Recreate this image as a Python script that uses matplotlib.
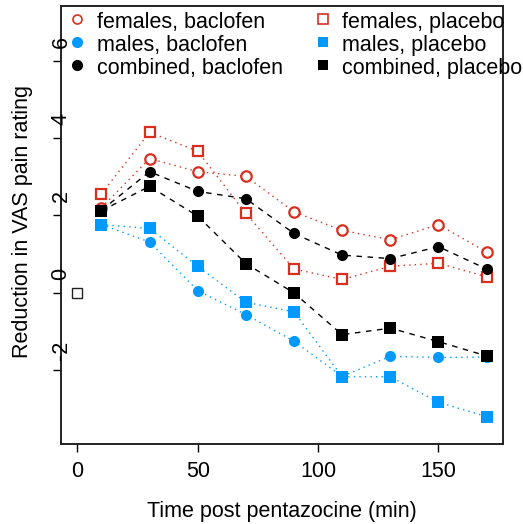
import matplotlib
matplotlib.use("Agg")
import matplotlib.pyplot as plt
from matplotlib.lines import Line2D
from matplotlib.transforms import ScaledTranslation

plt.rcParams['font.family'] = ['Liberation Sans', 'DejaVu Sans']

# ---- data ----
time = [10, 30, 50, 70, 90, 110, 130, 150, 170]
females_baclofen = [2.20, 3.47, 3.13, 3.01, 2.09, 1.61, 1.37, 1.76, 1.05]
females_placebo = [2.56, 4.15, 3.66, 2.05, 0.61, 0.34, 0.68, 0.76, 0.41]
males_baclofen = [1.76, 1.31, 0.05, -0.57, -1.26, -2.17, -1.65, -1.68, -1.67]
males_placebo = [1.76, 1.66, 0.68, -0.25, -0.50, -2.18, -2.18, -2.84, -3.21]
combined_baclofen = [2.13, 3.13, 2.62, 2.43, 1.53, 0.97, 0.88, 1.19, 0.61]
combined_placebo = [2.12, 2.75, 1.98, 0.75, -0.01, -1.09, -0.92, -1.27, -1.64]
baseline_time = [0]
baseline_value = [0]
x_ticks = [0, 50, 100, 150]
y_ticks = [-2, 0, 2, 4, 6]
legend_labels = ["females, baclofen", "males, baclofen", "combined, baclofen",
                 "females, placebo", "males, placebo", "combined, placebo"]

RED = '#D7301F'
BLUE = '#0099FF'
BLACK = '#000000'
FS = 15.5

W, H = 523, 524
fig = plt.figure(figsize=(W / 100, H / 100), dpi=100)
ax = fig.add_axes([61 / W, (H - 444) / H, 442 / W, 438 / H])

dotted = (0, (1, 3))
dashed = (0, (4, 4))
ms = 8

series = [
    (females_baclofen, RED, 'o', 'none', dotted),
    (females_placebo, RED, 's', 'none', dotted),
    (males_baclofen, BLUE, 'o', BLUE, dotted),
    (males_placebo, BLUE, 's', BLUE, dotted),
    (combined_baclofen, BLACK, 'o', BLACK, dashed),
    (combined_placebo, BLACK, 's', BLACK, dashed),
]
for vals, col, mk, fc, ls in series:
    ax.plot(time, vals, color=col, linestyle=ls, linewidth=1.0,
            marker=mk, markersize=ms if fc != 'none' else ms - 0.5,
            markerfacecolor=fc if fc != 'none' else 'white',
            markeredgecolor=col, markeredgewidth=1.6 if fc == 'none' else 0)

ax.plot(baseline_time, baseline_value, linestyle='none', marker='s',
        markersize=6.5, markerfacecolor='white', markeredgecolor='#222222',
        markeredgewidth=1.0)

ax.set_xlim(-6.8, 176.8)
ax.set_ylim(-3.92, 7.42)

for sp in ax.spines.values():
    sp.set_linewidth(1.4)
    sp.set_color('#222222')

ax.set_xticks(x_ticks)
ax.set_xticklabels([str(v) for v in x_ticks], fontsize=FS)
ax.tick_params(axis='x', direction='out', length=6, width=1.0, pad=6)
ax.set_yticks(y_ticks)
ax.set_yticklabels([])
ax.tick_params(axis='y', direction='out', length=6, width=1.0)

off = ScaledTranslation(0, 19 / 100, fig.dpi_scale_trans)
for yt in y_ticks:
    ax.text(0.0, yt, str(yt), transform=ax.get_yaxis_transform() + off,
            rotation=90, ha='center', va='center', fontsize=FS, clip_on=False)

fig.text(282 / W, 1 - 512 / H, "Time post pentazocine (min)", fontsize=FS,
         ha='center', va='center')
fig.text(23 / W, 1 - 222 / H, "Reduction in VAS pain rating", fontsize=FS,
         rotation=90, ha='center', va='center')

handles = [
    Line2D([], [], linestyle='none', marker='o', markersize=6.5,
           markerfacecolor='white', markeredgecolor=RED, markeredgewidth=1.2),
    Line2D([], [], linestyle='none', marker='o', markersize=8,
           markerfacecolor=BLUE, markeredgewidth=0),
    Line2D([], [], linestyle='none', marker='o', markersize=8,
           markerfacecolor=BLACK, markeredgewidth=0),
    Line2D([], [], linestyle='none', marker='s', markersize=6.5,
           markerfacecolor='white', markeredgecolor=RED, markeredgewidth=1.2),
    Line2D([], [], linestyle='none', marker='s', markersize=7.5,
           markerfacecolor=BLUE, markeredgewidth=0),
    Line2D([], [], linestyle='none', marker='s', markersize=7.5,
           markerfacecolor=BLACK, markeredgewidth=0),
]
ax.legend(handles, legend_labels, ncol=2, frameon=False, fontsize=FS,
          loc='upper left', bbox_to_anchor=(66.6 / W, 1 - 10 / H),
          bbox_transform=fig.transFigure, borderpad=0, borderaxespad=0,
          handlelength=1.0, handleheight=1.16, handletextpad=0.42,
          columnspacing=1.33, labelspacing=0.0)

fig.savefig("out.png", dpi=100)
